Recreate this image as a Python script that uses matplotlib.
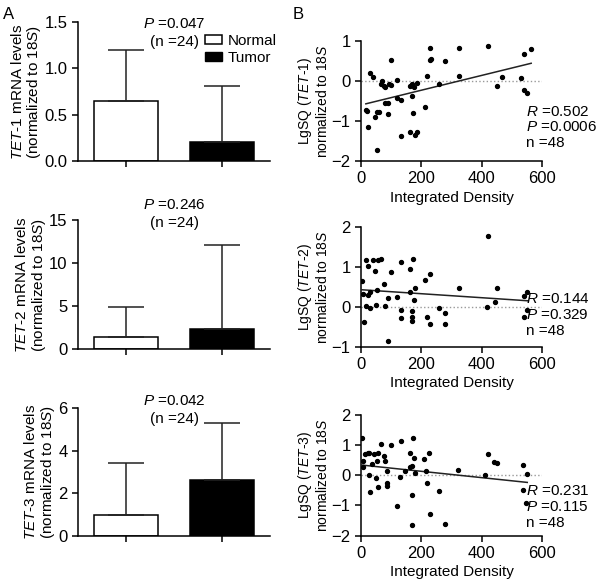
import numpy as np
import matplotlib
matplotlib.use('Agg')
import matplotlib.pyplot as plt
from matplotlib.patches import Patch

plt.rcParams['font.family'] = ['Liberation Sans', 'DejaVu Sans']
plt.rcParams['mathtext.fontset'] = 'custom'
plt.rcParams['mathtext.rm'] = 'Liberation Sans'
plt.rcParams['mathtext.it'] = 'Liberation Sans:italic'
plt.rcParams['font.size'] = 10.5
plt.rcParams['axes.linewidth'] = 1.1

# ---- panel A data: mean and SD (upper) ----
groups = ['Normal', 'Tumor']
tet1_mean = [0.65, 0.20]
tet1_sd = [0.55, 0.61]
tet2_mean = [1.43, 2.36]
tet2_sd = [3.41, 9.74]
tet3_mean = [1.00, 2.62]
tet3_sd = [2.41, 2.67]
p_bar = ['0.047', '0.246', '0.042']

# ---- panel B data: integrated density vs LgSQ ----
tet1_x = [16, 21, 24, 30, 39, 46, 52, 54, 60, 66, 71, 75, 80, 80, 88, 88, 93, 98, 101,
          118, 120, 131, 132, 162, 164, 169, 169, 172, 175, 179, 186, 187, 212, 220, 228,
          229, 232, 260, 280, 325, 325, 422, 452, 466, 531, 539, 540, 551, 564]
tet1_y = [-0.72, -0.75, -1.15, 0.19, 0.10, -0.90, -1.73, -0.79, -0.77, -0.09, 0.0, -0.12,
          -0.16, -0.56, -0.56, -0.82, -0.09, -0.11, 0.52, 0.02, -0.43, -1.37, -0.49, -1.27,
          -0.13, -0.09, -0.38, -0.81, -0.16, -1.35, -0.06, -1.28, -0.66, 0.11, 0.83, 0.52,
          0.55, -0.09, 0.49, 0.83, 0.11, 0.87, -0.13, 0.09, 0.06, 0.66, -0.23, -0.31, 0.79]

tet2_x = [4, 8, 9, 15, 18, 24, 24, 29, 31, 39, 45, 51, 54, 57, 67, 76, 79, 89, 89, 101,
          119, 132, 132, 132, 163, 164, 169, 169, 169, 172, 175, 179, 212, 219, 228, 230,
          260, 279, 280, 326, 416, 422, 443, 452, 539, 539, 550, 551]
tet2_y = [0.65, 0.33, -0.38, 0.02, 1.17, 1.02, 0.29, 0.37, -0.04, 1.16, 0.90, 0.05, 0.43,
          1.17, 1.20, 0.57, 0.02, 0.23, -0.85, 0.87, 0.25, 1.13, -0.07, -0.27, 0.95, 0.38,
          -0.11, -0.25, -0.36, 1.19, 0.18, 0.47, 0.68, -0.25, 0.83, -0.42, -0.04, -0.16,
          -0.43, 0.48, 0.0, 1.77, 0.13, 0.48, 0.26, -0.25, 0.37, -0.08]

tet3_x = [4, 7, 7, 14, 22, 26, 27, 29, 35, 43, 49, 52, 55, 56, 65, 75, 79, 86, 87, 87,
          100, 118, 129, 131, 146, 161, 163, 168, 168, 168, 171, 174, 178, 209, 215, 218,
          226, 228, 257, 277, 323, 412, 421, 441, 450, 538, 537, 548, 551]
tet3_y = [1.24, 0.46, 0.28, 0.70, 0.72, 0.72, 0.02, -0.56, 0.37, 0.69, -0.09, 0.48, 0.75,
          -0.40, 1.05, 0.63, 0.46, 0.14, -0.25, -0.37, 0.99, -1.02, -0.07, 1.13, 0.14, 0.72,
          0.26, 0.30, -0.64, -1.63, 1.22, 0.57, 0.09, 0.53, 0.15, -0.26, 0.74, -1.29, -0.52,
          -1.60, 0.17, 0.0, 0.69, 0.45, 0.41, 0.35, -0.49, -0.93, 0.03]

stats = [('0.502', '0.0006', '48'), ('0.144', '0.329', '48'), ('0.231', '0.115', '48')]

fig = plt.figure(figsize=(6.0, 5.84), dpi=100)

# ---------- panel A ----------
bar_pos = [[0.13, 0.7243, 0.32, 0.238],
           [0.13, 0.4024, 0.32, 0.221],
           [0.13, 0.0822, 0.32, 0.219]]
bar_means = [tet1_mean, tet2_mean, tet3_mean]
bar_sds = [tet1_sd, tet2_sd, tet3_sd]
bar_ylim = [(0, 1.5), (0, 15), (0, 6)]
bar_ticks = [[0.0, 0.5, 1.0, 1.5], [0, 5, 10, 15], [0, 2, 4, 6]]
bar_fmt = ['%.1f', '%d', '%d']
bar_lab = [r'$\mathit{TET}$-$\mathit{1}$ mRNA levels' + '\n' + r'(normalized to $\mathit{18S}$)',
           r'$\mathit{TET}$-2 mRNA levels' + '\n' + r'(normalized to $\mathit{18S}$)',
           r'$\mathit{TET}$-3 mRNA levels' + '\n' + r'(normalized to $\mathit{18S}$)']
ptext_y = [0.92, 1.047, 0.984]

for i in range(3):
    ax = fig.add_axes(bar_pos[i])
    x = np.arange(len(groups))
    ax.bar(x, bar_means[i], width=0.667, color=['white', 'black'],
           edgecolor='black', linewidth=1.1, zorder=2)
    ax.errorbar(x, bar_means[i], yerr=[[0, 0], bar_sds[i]], fmt='none',
                ecolor='#222222', elinewidth=1.1, capsize=13, capthick=1.1, zorder=3)
    ax.set_xlim(-0.5, 1.5)
    ax.set_ylim(*bar_ylim[i])
    ax.set_yticks(bar_ticks[i])
    ax.set_yticklabels([bar_fmt[i] % t for t in bar_ticks[i]], fontsize=12)
    ax.set_xticks(x)
    ax.set_xticklabels([])
    ax.spines['top'].set_visible(False)
    ax.spines['right'].set_visible(False)
    ax.tick_params(direction='out', length=4, width=1.1)
    ax.set_ylabel(bar_lab[i], fontsize=11, linespacing=1.05, labelpad=1)
    ax.text(0.5, ptext_y[i], r'$P$ =' + p_bar[i] + '\n(n =24)', transform=ax.transAxes,
            ha='center', va='center', fontsize=11, linespacing=1.3)
    if i == 0:
        handles = [Patch(facecolor='white', edgecolor='black', linewidth=1.1),
                   Patch(facecolor='black', edgecolor='black')]
        ax.legend(handles, groups, loc='upper right', bbox_to_anchor=(1.065, 0.96),
                  frameon=False, fontsize=11, handlelength=1.1, handleheight=0.5,
                  handletextpad=0.35, labelspacing=0.2, borderaxespad=0)

# ---------- panel B ----------
sc_pos = [[0.6017, 0.7243, 0.3017, 0.206],
          [0.6017, 0.4063, 0.3017, 0.2055],
          [0.6017, 0.0827, 0.3017, 0.207]]
sc_x = [tet1_x, tet2_x, tet3_x]
sc_y = [tet1_y, tet2_y, tet3_y]
sc_ylim = [(-2, 1), (-1, 2), (-2, 2)]
sc_lab = [r'LgSQ ($\mathit{TET}$-$\mathit{1}$)' + '\n' + r'normalized to $\mathit{18S}$',
          r'LgSQ ($\mathit{TET}$-2)' + '\n' + r'normalized to $\mathit{18S}$',
          r'LgSQ ($\mathit{TET}$-$\mathit{3}$)' + '\n' + r'normalized to $\mathit{18S}$']
text_y = [0.467, 0.452, 0.426]

for i in range(3):
    ax = fig.add_axes(sc_pos[i])
    xs = np.array(sc_x[i], dtype=float)
    ys = np.array(sc_y[i], dtype=float)
    ax.axhline(0, color='#999999', linestyle=':', linewidth=1.0, zorder=1)
    ax.scatter(xs, ys, s=8, color='black', zorder=3)
    k, b = np.polyfit(xs, ys, 1)
    xl = np.array([xs.min(), xs.max()])
    ax.plot(xl, k * xl + b, color='#222222', linewidth=1.1, zorder=2)
    ax.set_xlim(0, 600)
    ax.set_ylim(*sc_ylim[i])
    ax.set_xticks([0, 200, 400, 600])
    ax.set_yticks(np.arange(sc_ylim[i][0], sc_ylim[i][1] + 1))
    ax.tick_params(direction='out', length=4, width=1.1, labelsize=12)
    ax.spines['top'].set_visible(False)
    ax.spines['right'].set_visible(False)
    ax.set_xlabel('Integrated Density', fontsize=11, labelpad=3)
    ax.set_ylabel(sc_lab[i], fontsize=10, linespacing=1.1, labelpad=1)
    r, p, n = stats[i]
    ax.text(0.91, text_y[i], r'$R$ =' + r + '\n' + r'$P$ =' + p + '\n' + 'n =' + n,
            transform=ax.transAxes, ha='left', va='top', fontsize=11, linespacing=1.15)

fig.text(0.005, 0.975, 'A', fontsize=12, ha='left', va='center')
fig.text(0.488, 0.975, 'B', fontsize=12, ha='left', va='center')

fig.savefig('out.png', dpi=100)
